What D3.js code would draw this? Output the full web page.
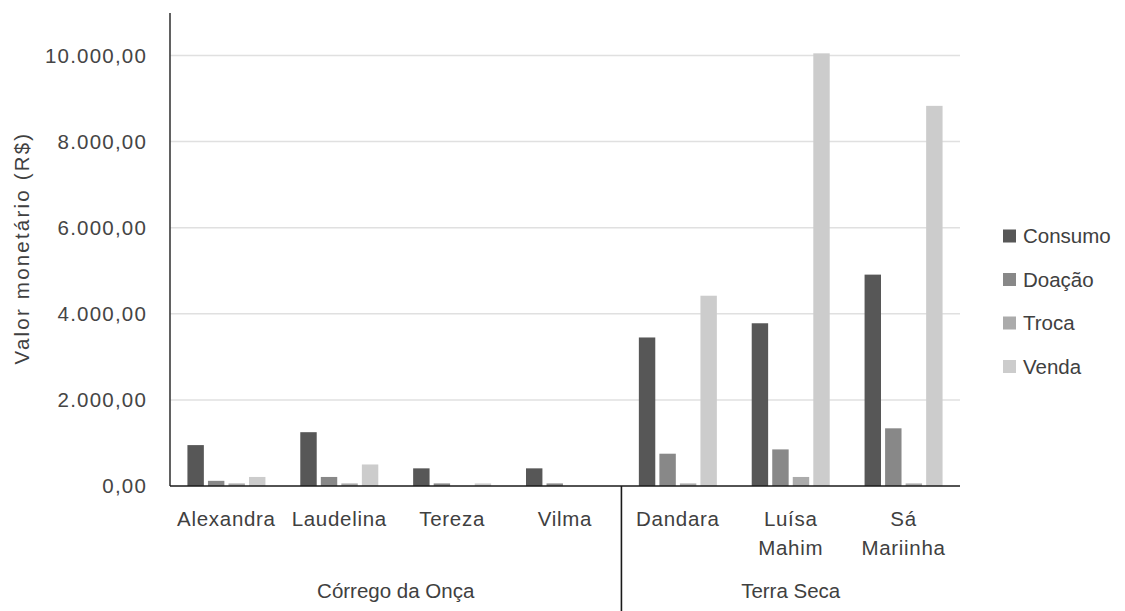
<!DOCTYPE html>
<html>
<head>
<meta charset="utf-8">
<script src="https://cdn.jsdelivr.net/npm/d3@7"></script>
<style>
  html, body { margin: 0; padding: 0; background: #fff; }
  svg { display: block; font-family: "Liberation Sans", Arial, sans-serif; }
</style>
</head>
<body>
<svg id="chart" width="1125" height="611"></svg>
<script>
// Produtoras, agrupadas por comunidade
const producers = ["Alexandra", "Laudelina", "Tereza", "Vilma", "Dandara", "Luísa Mahim", "Sá Mariinha"];
const producerLines = [["Alexandra"], ["Laudelina"], ["Tereza"], ["Vilma"], ["Dandara"], ["Luísa", "Mahim"], ["Sá", "Mariinha"]];
const communities = ["Córrego da Onça", "Terra Seca"];
const communitySizes = [4, 3];

// Destinos da produção
const seriesNames = ["Consumo", "Doação", "Troca", "Venda"];
const seriesColors = ["#575757", "#888888", "#ababab", "#cccccc"];

// Valor monetário (R$) por destino, na ordem das produtoras
const consumo = [950, 1250, 410, 410, 3450, 3780, 4910];
const doacao  = [120, 210, 60, 60, 750, 850, 1340];
const troca   = [60, 60, 0, 0, 60, 210, 60];
const venda   = [210, 500, 60, 0, 4420, 10050, 8830];
const seriesValues = [consumo, doacao, troca, venda];

const yTicks = [0, 2000, 4000, 6000, 8000, 10000];

(function draw() {
  const svg = d3.select("#chart");
  const plotLeft = 170, plotRight = 960, plotTop = 13, baseline = 486;

  const x = d3.scaleBand().domain(producers).range([plotLeft, plotRight]).paddingInner(0).paddingOuter(0);
  const y = d3.scaleLinear().domain([0, 10000]).range([baseline, 55.5]);

  const fmt = v => d3.format(",.2f")(v).replace(/,/g, "#").replace(/\./g, ",").replace(/#/g, ".");

  // Linhas de grade
  svg.append("g")
    .selectAll("line")
    .data(yTicks.filter(t => t > 0))
    .join("line")
    .attr("x1", plotLeft).attr("x2", plotRight)
    .attr("y1", d => y(d)).attr("y2", d => y(d))
    .attr("stroke", "#e0e0e0").attr("stroke-width", 1.5);

  // Eixo Y
  const yAxis = d3.axisLeft(y).tickValues(yTicks).tickFormat(fmt).tickSize(0).tickPadding(23);
  const gy = svg.append("g").attr("transform", `translate(${plotLeft},0)`).call(yAxis);
  gy.select(".domain").remove();
  gy.selectAll("text")
    .attr("font-size", 20.5)
    .attr("letter-spacing", 1.2)
    .attr("fill", "#454545")
    .attr("font-family", "Liberation Sans, Arial, sans-serif");

  svg.append("line")
    .attr("x1", plotLeft).attr("x2", plotLeft)
    .attr("y1", plotTop).attr("y2", baseline)
    .attr("stroke", "#3a3a3a").attr("stroke-width", 1.6);

  // Barras
  const inner = d3.scaleBand().domain(seriesNames).range([-39, 39]).paddingInner(0.2);
  const barData = [];
  producers.forEach((p, i) => {
    seriesNames.forEach((s, j) => {
      barData.push({ producer: p, series: s, value: seriesValues[j][i], color: seriesColors[j] });
    });
  });

  svg.append("g")
    .selectAll("rect")
    .data(barData)
    .join("rect")
    .attr("x", d => x(d.producer) + x.bandwidth() / 2 + inner(d.series))
    .attr("width", inner.bandwidth())
    .attr("y", d => y(d.value))
    .attr("height", d => baseline - y(d.value))
    .attr("fill", d => d.color);

  // Eixo X
  svg.append("line")
    .attr("x1", plotLeft).attr("x2", plotRight)
    .attr("y1", baseline).attr("y2", baseline)
    .attr("stroke", "#1a1a1a").attr("stroke-width", 1.6);

  // Rótulos das produtoras
  const catLabels = svg.append("g")
    .selectAll("text")
    .data(producers)
    .join("text")
    .attr("x", d => x(d) + x.bandwidth() / 2)
    .attr("y", 526)
    .attr("text-anchor", "middle")
    .attr("font-size", 20.5)
    .attr("letter-spacing", 0.7)
    .attr("fill", "#404040");
  catLabels.selectAll("tspan")
    .data((d, i) => producerLines[i])
    .join("tspan")
    .attr("x", function () { return d3.select(this.parentNode).attr("x"); })
    .attr("dy", (d, i) => i === 0 ? 0 : 28.5)
    .text(d => d);

  // Separadores e rótulos das comunidades
  let start = 0;
  communities.forEach((c, k) => {
    const first = producers[start];
    const last = producers[start + communitySizes[k] - 1];
    const x0 = x(first), x1 = x(last) + x.bandwidth();
    svg.append("text")
      .attr("x", (x0 + x1) / 2)
      .attr("y", 598)
      .attr("text-anchor", "middle")
      .attr("font-size", 20.5)
      .attr("fill", "#404040")
      .text(c);
    if (k < communities.length - 1) {
      svg.append("line")
        .attr("x1", x1).attr("x2", x1)
        .attr("y1", baseline).attr("y2", 611)
        .attr("stroke", "#1a1a1a").attr("stroke-width", 1.6);
    }
    start += communitySizes[k];
  });

  // Título do eixo Y
  svg.append("text")
    .attr("transform", "translate(29,248) rotate(-90)")
    .attr("text-anchor", "middle")
    .attr("font-size", 20.5)
    .attr("letter-spacing", 2.2)
    .attr("fill", "#404040")
    .text("Valor monetário (R$)");

  // Legenda
  const legend = svg.append("g")
    .selectAll("g")
    .data(seriesNames)
    .join("g")
    .attr("transform", (d, i) => `translate(1003,${236 + i * 43.5})`);
  legend.append("rect")
    .attr("x", 0).attr("y", -6.5)
    .attr("width", 13).attr("height", 13)
    .attr("fill", (d, i) => seriesColors[i]);
  legend.append("text")
    .attr("x", 20).attr("y", 0)
    .attr("dy", "0.35em")
    .attr("font-size", 20.5)
    .attr("fill", "#404040")
    .text(d => d);
})();
</script>
</body>
</html>
